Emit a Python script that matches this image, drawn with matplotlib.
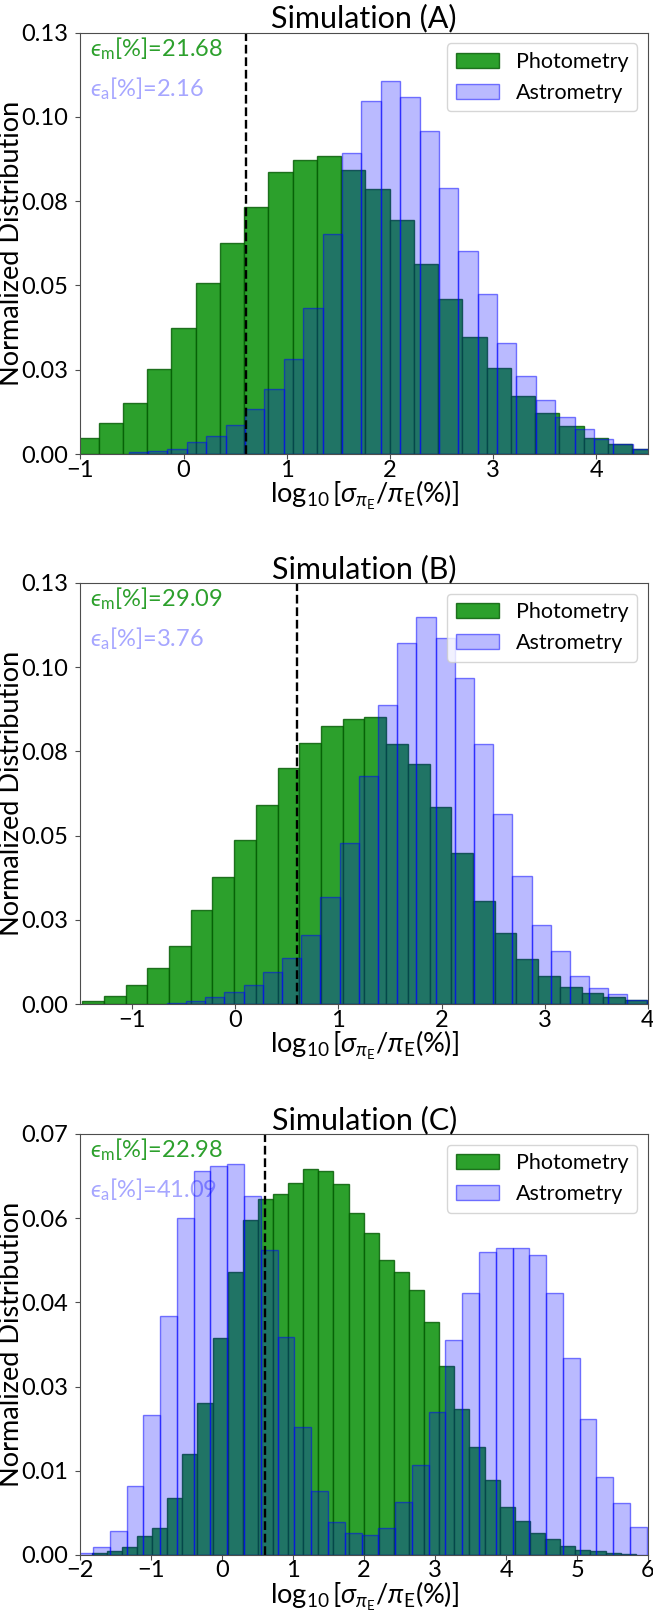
import numpy as np
import matplotlib
matplotlib.use('Agg')
import matplotlib.pyplot as plt
from matplotlib.ticker import FormatStrFormatter

plt.rcParams['font.family'] = ['Lato', 'DejaVu Sans']
plt.rcParams['mathtext.fontset'] = 'custom'
plt.rcParams['mathtext.rm'] = 'Lato'
plt.rcParams['mathtext.it'] = 'Lato:italic'
plt.rcParams['mathtext.bf'] = 'Lato:bold'
plt.rcParams['mathtext.fallback'] = 'stixsans'

# normalized histograms, one list of bin heights per simulation,
# first bin edge and bin width for each
phot_a_lo, phot_a_w = -1.058, 0.2349
phot_a = [0.0050, 0.0097, 0.0159, 0.0262, 0.0388, 0.0528, 0.0650, 0.0763,
          0.0870, 0.0906, 0.0919, 0.0876, 0.0819, 0.0721, 0.0585, 0.0477,
          0.0362, 0.0266, 0.0180, 0.0127, 0.0086, 0.0048, 0.0031, 0.0017]
astr_a_lo, astr_a_w = -0.531, 0.1878
astr_a = [0.0005, 0.0009, 0.0015, 0.0036, 0.0057, 0.0089, 0.0139, 0.0200,
          0.0293, 0.0449, 0.0680, 0.0929, 0.1088, 0.1150, 0.1100, 0.0997,
          0.0822, 0.0627, 0.0495, 0.0343, 0.0240, 0.0166, 0.0115, 0.0076,
          0.0045, 0.0031, 0.0017]

phot_b_lo, phot_b_w = -1.483, 0.2104
phot_b = [0.0011, 0.0027, 0.0058, 0.0113, 0.0180, 0.0291, 0.0394, 0.0507,
          0.0615, 0.0728, 0.0806, 0.0859, 0.0880, 0.0885, 0.0803, 0.0742,
          0.0610, 0.0466, 0.0320, 0.0221, 0.0140, 0.0087, 0.0052, 0.0034,
          0.0022, 0.0013, 0.0008]
astr_b_lo, astr_b_w = -0.663, 0.186
astr_b = [0.0004, 0.0011, 0.0022, 0.0037, 0.0060, 0.0098, 0.0142, 0.0214,
          0.0332, 0.0499, 0.0703, 0.0924, 0.1114, 0.1194, 0.1130, 0.1006,
          0.0803, 0.0587, 0.0397, 0.0245, 0.0165, 0.0088, 0.0051, 0.0031,
          0.0013]

phot_c_lo, phot_c_w = -1.841, 0.213
phot_c = [0.0003, 0.0007, 0.0013, 0.0032, 0.0044, 0.0095, 0.0168, 0.0252,
          0.0361, 0.0471, 0.0557, 0.0591, 0.0600, 0.0618, 0.0641, 0.0638,
          0.0616, 0.0569, 0.0535, 0.0491, 0.0470, 0.0440, 0.0388, 0.0314,
          0.0242, 0.0179, 0.0125, 0.0080, 0.0057, 0.0036, 0.0027, 0.0015,
          0.0009, 0.0006, 0.0004, 0.0002]
astr_c_lo, astr_c_w = -2.058, 0.2365
astr_c = [0.0004, 0.0013, 0.0040, 0.0115, 0.0233, 0.0397, 0.0560, 0.0639,
          0.0646, 0.0650, 0.0596, 0.0507, 0.0363, 0.0213, 0.0107, 0.0054,
          0.0037, 0.0033, 0.0044, 0.0088, 0.0150, 0.0237, 0.0358, 0.0435,
          0.0503, 0.0510, 0.0510, 0.0499, 0.0435, 0.0327, 0.0226, 0.0130,
          0.0086, 0.0047]

titles = ['Simulation (A)', 'Simulation (B)', 'Simulation (C)']
eps_m = ['21.68', '29.09', '22.98']
eps_a = ['2.16', '3.76', '41.09']
xlims = [(-1, 4.5), (-1.5, 4), (-2, 6)]
xticks = [range(-1, 5), range(-1, 5), range(-2, 7)]
ymax = [0.13, 0.13, 0.07]
cut = np.log10(4.)

panels = [
    (phot_a_lo, phot_a_w, phot_a, astr_a_lo, astr_a_w, astr_a),
    (phot_b_lo, phot_b_w, phot_b, astr_b_lo, astr_b_w, astr_b),
    (phot_c_lo, phot_c_w, phot_c, astr_c_lo, astr_c_w, astr_c),
]

fig = plt.figure(figsize=(6.53, 16.13), dpi=100)
bottoms = [0.7185, 0.3774, 0.0360]
heights = [0.2613, 0.2612, 0.2610]

green = '#2ca02c'
for i, (glo, gw, gh, blo, bw, bh) in enumerate(panels):
    ax = fig.add_axes([0.123, bottoms[i], 0.8694, heights[i]])
    gedges = glo + gw * np.arange(len(gh) + 1)
    bedges = blo + bw * np.arange(len(bh) + 1)
    ax.hist(0.5 * (gedges[:-1] + gedges[1:]), bins=gedges, weights=gh,
            facecolor=green, edgecolor=(0, 0.35, 0, 0.8), linewidth=1.0,
            label='Photometry')
    ax.hist(0.5 * (bedges[:-1] + bedges[1:]), bins=bedges, weights=bh,
            facecolor=(0, 0, 1, 0.27), edgecolor=(0, 0, 1, 0.5),
            linewidth=1.0, label='Astrometry')
    ax.axvline(cut, color='k', ls='--', lw=1.7)

    ax.set_xlim(*xlims[i])
    ax.set_ylim(0, ymax[i])
    ax.set_xticks(list(xticks[i]))
    ax.set_yticks(np.linspace(0, ymax[i], 6))
    ax.yaxis.set_major_formatter(FormatStrFormatter('%.2f'))
    ax.tick_params(labelsize=17, length=3.5, color='0.3')
    ax.tick_params(axis='x', pad=0.5)
    ax.tick_params(axis='y', pad=5.5)
    for s in ax.spines.values():
        s.set_color('0.3')

    ax.set_title(titles[i], fontsize=22, pad=3)
    ax.set_ylabel('Normalized Distribution', fontsize=19.5)
    ax.yaxis.set_label_coords(-0.099, 0.5)
    ax.set_xlabel(r'$\log_{10}[\sigma_{\pi_{\rm E}}/\pi_{\rm E}(\%)]$',
                  fontsize=19.5)
    ax.xaxis.set_label_coords(0.5, -0.059)

    ax.text(0.017, 0.962, r'$ϵ_{\rm m}$[%]=' + eps_m[i],
            transform=ax.transAxes, color=green, fontsize=17, va='center')
    ax.text(0.017, 0.868, r'$ϵ_{\rm a}$[%]=' + eps_a[i],
            transform=ax.transAxes, color='blue', alpha=0.35, fontsize=17,
            va='center')
    ax.legend(loc='upper right', fontsize=15.5, handlelength=2.0)

fig.savefig('out.png', dpi=100)
